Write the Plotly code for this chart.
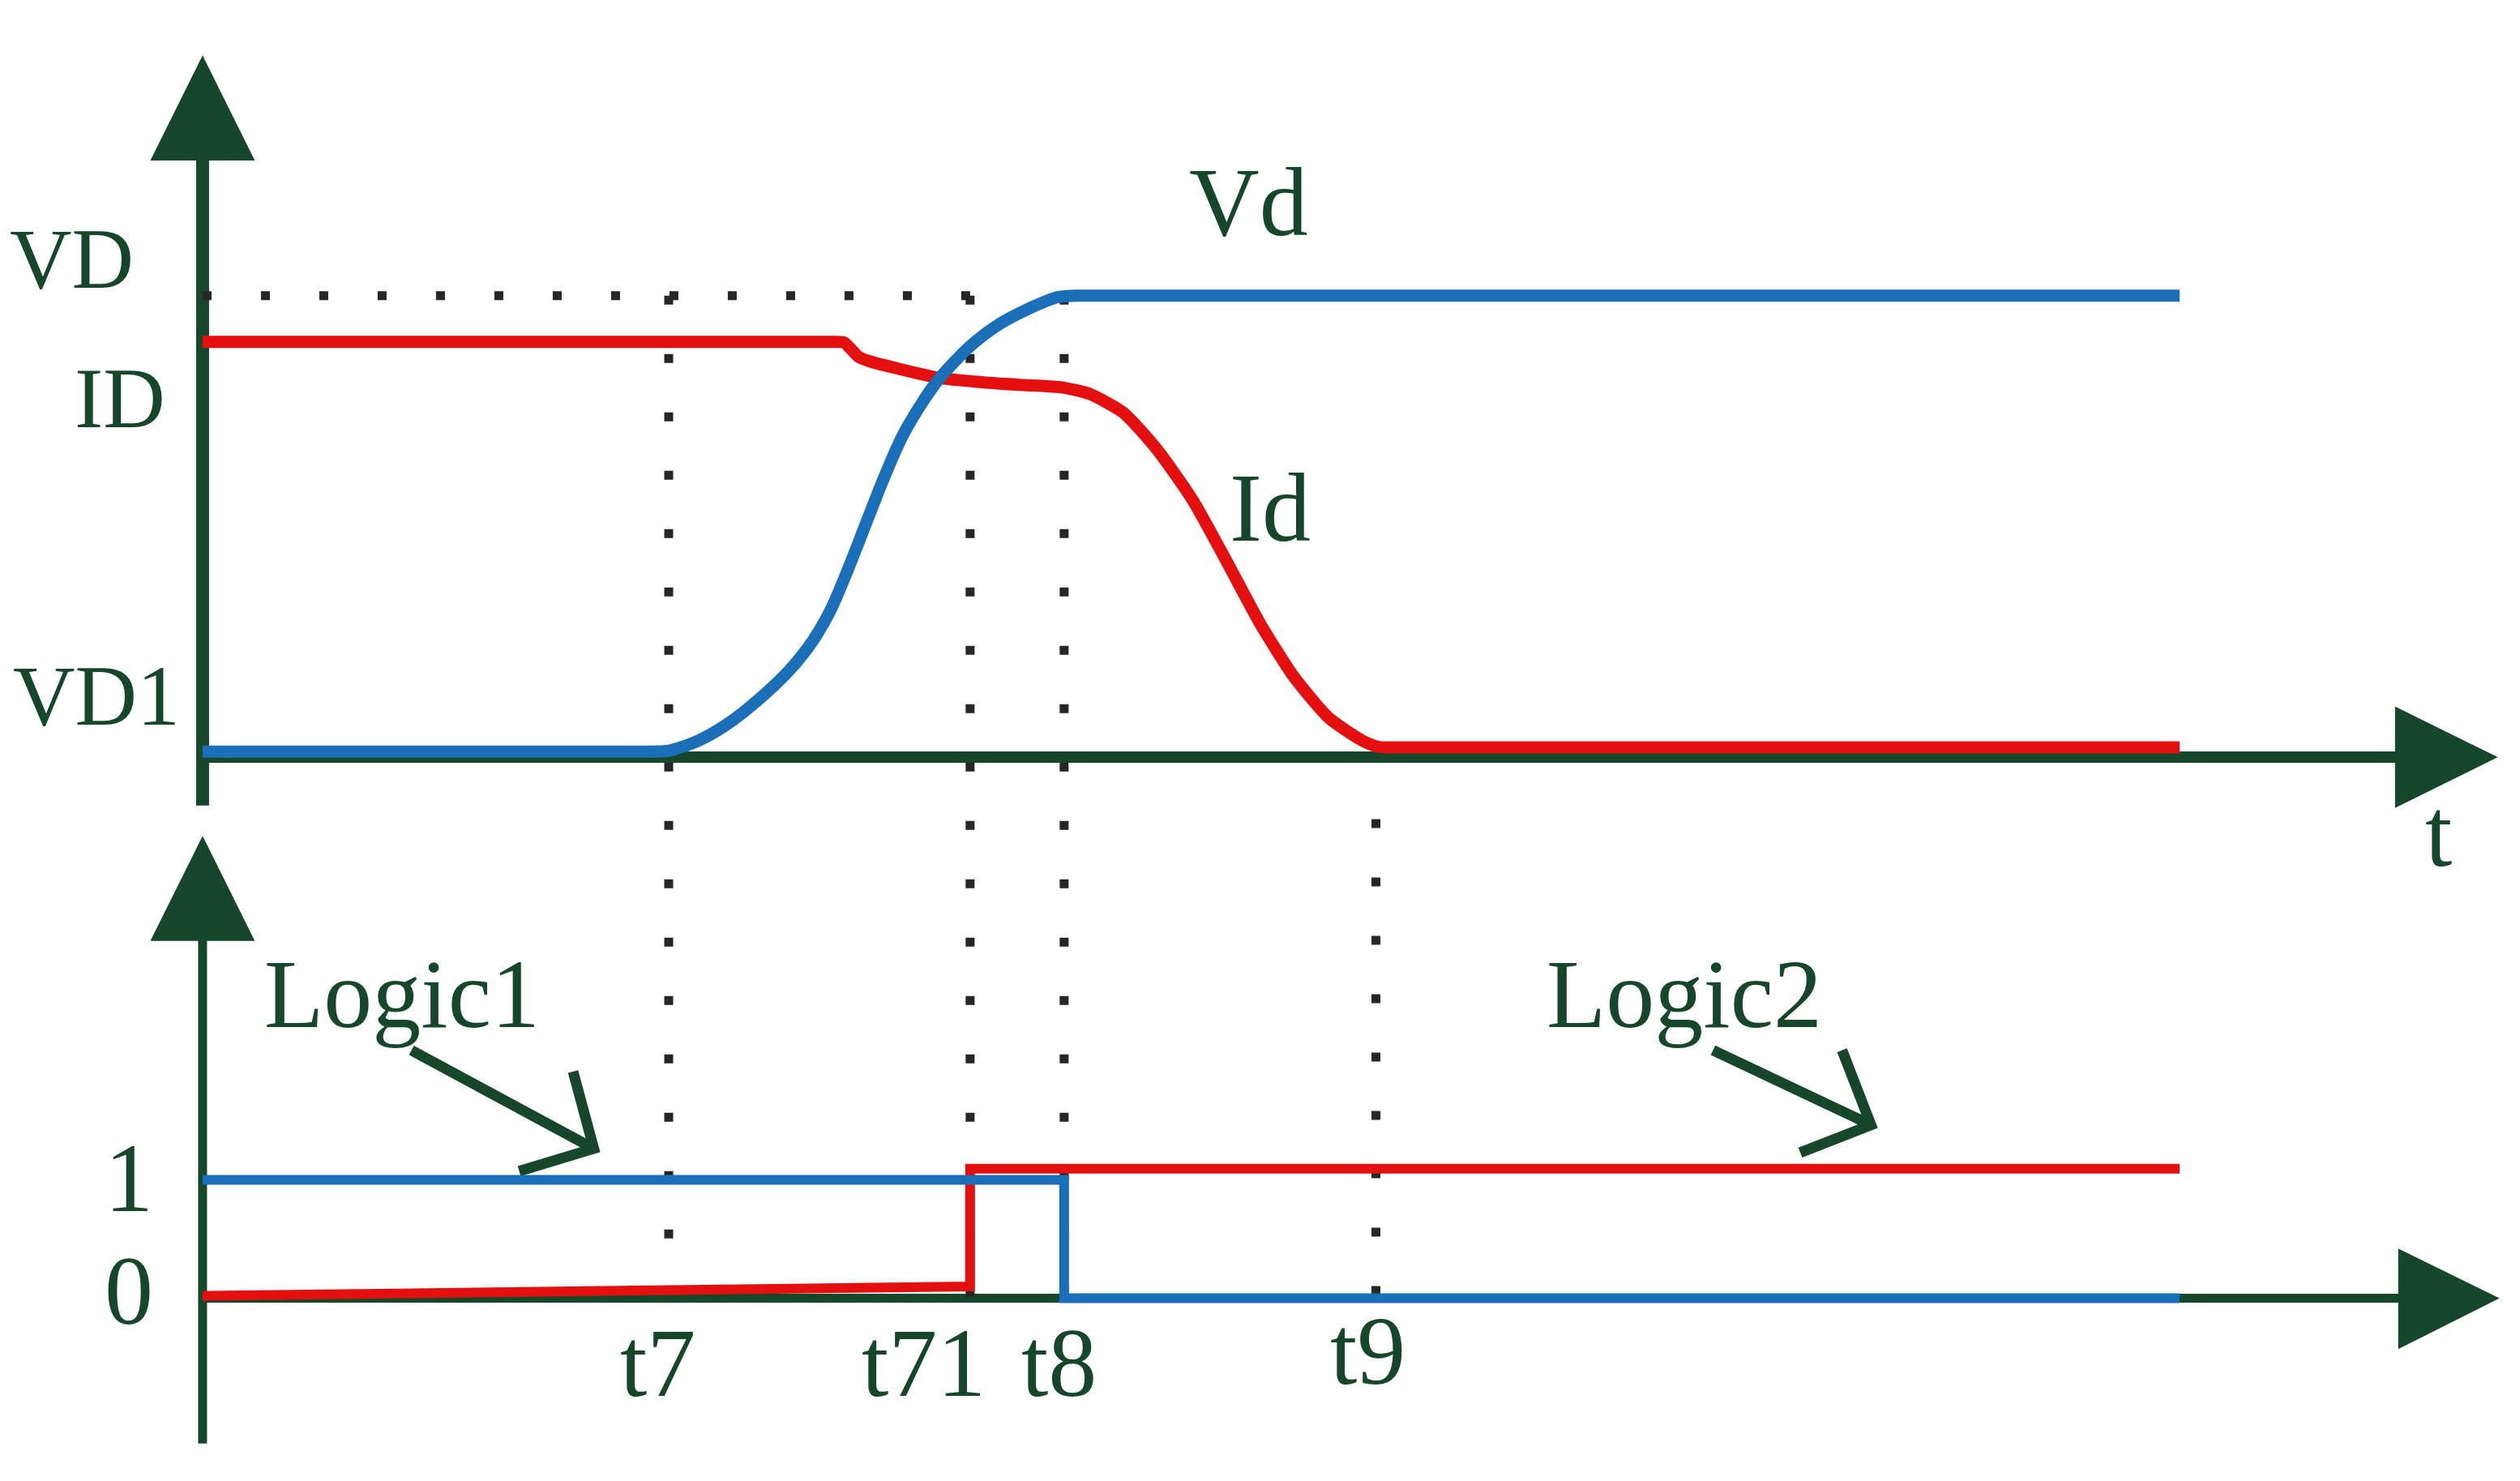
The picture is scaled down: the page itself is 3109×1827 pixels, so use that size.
import plotly.graph_objects as go

# switching instants on the time axis (arbitrary units)
T7, T71, T8, T9 = 29.0, 47.75, 53.6, 73.0
T_END = 123.0

# upper panel: drain voltage Vd rises VD1 -> VD, drain current Id falls ID -> ~0
vd_t = [0, 26.0, 28.0, 29.0, 30.8, 32.7, 34.6, 36.5, 38.0, 39.1, 40.2, 41.3, 42.4, 43.5,
        44.8, 45.8, 47.7, 49.5, 51.4, 53.2, 54.2, 55.5, 57.0, 123.0]
vd_v = [0.012, 0.012, 0.012, 0.014, 0.035, 0.073, 0.125, 0.188, 0.254, 0.321, 0.411, 0.509, 0.606,
        0.693, 0.770, 0.819, 0.889, 0.937, 0.972, 0.997, 1.0, 1.0, 1.0, 1.0]

id_t = [0, 36.0, 39.0, 39.9, 40.3, 40.8, 41.59, 43.27, 45.79, 48.31, 50.8, 53.36, 55.2, 57.3,
        59.4, 61.6, 63.7, 65.8, 67.9, 70.1, 72.2, 73.2, 74.5, 76.0, 123.0]
id_v = [0.900, 0.900, 0.900, 0.899, 0.886, 0.868, 0.857, 0.842, 0.822, 0.813, 0.807, 0.802, 0.787,
        0.746, 0.666, 0.557, 0.425, 0.289, 0.174, 0.084, 0.035, 0.022, 0.021, 0.021, 0.021]

# lower panel: logic signals
logic1_t = [0, T8, T8, T_END]
logic1_v = [1, 1, 0, 0]
logic2_t = [0, T71, T71, T_END]
logic2_v = [0.02, 0.10, 1.095, 1.095]

# level labels on the vertical axes
upper_labels = ["VD", "ID", "VD1"]
upper_label_y = [1.059, 0.756, 0.111]
upper_label_right = [-4.2, -2.2, -1.3]
lower_labels = ["1", "0"]
lower_label_y = [0.93, -0.02]
# time labels under the lower axis
time_labels = ["t7", "t71", "t8", "t9"]
time_label_x = [T7 - 0.7, T71 - 2.9, T8 - 0.3, T9 - 0.5]
time_label_y = [-0.63, -0.63, -0.63, -0.53]

# colours
AXIS = "#17472a"
BLUE = "#1a6fb8"
RED = "#e3100f"
DOT = "#262626"
SERIF = "Liberation Serif, Times New Roman, serif"
FONT = dict(family=SERIF, size=120, color=AXIS)
FONT_LVL = dict(family=SERIF, size=106, color=AXIS)
DOTS = "11px,61px"
dotted = dict(color=DOT, width=11, dash=DOTS)

# the VD level expressed on the lower panel's scale, so the guides keep the same dot phase
VD_IN_LOWER = 8.473

fig = go.Figure()

# dotted guides (upper panel)
fig.add_trace(go.Scatter(x=[0, T71], y=[1.0, 1.0], mode="lines", line=dotted, xaxis="x", yaxis="y"))
for t in (T7, T71, T8):
    fig.add_trace(go.Scatter(x=[t, t], y=[1.0, -0.14], mode="lines", line=dotted, xaxis="x", yaxis="y"))
# dotted guides (lower panel)
for t, bottom in ((T7, 0.45), (T71, -0.2), (T8, -0.2)):
    fig.add_trace(go.Scatter(x=[t, t], y=[VD_IN_LOWER, bottom], mode="lines", line=dotted,
                             xaxis="x2", yaxis="y2"))
fig.add_trace(go.Scatter(x=[T9, T9], y=[4.05, 0.0], mode="lines", line=dotted, xaxis="x2", yaxis="y2"))

# curves
fig.add_trace(go.Scatter(x=id_t, y=id_v, mode="lines", name="Id",
                         line=dict(color=RED, width=15, shape="spline", smoothing=0.6),
                         xaxis="x", yaxis="y"))
fig.add_trace(go.Scatter(x=vd_t, y=vd_v, mode="lines", name="Vd",
                         line=dict(color=BLUE, width=15, shape="spline", smoothing=0.8),
                         xaxis="x", yaxis="y"))
fig.add_trace(go.Scatter(x=logic2_t, y=logic2_v, mode="lines", name="Logic2",
                         line=dict(color=RED, width=12), xaxis="x2", yaxis="y2"))
fig.add_trace(go.Scatter(x=logic1_t, y=logic1_v, mode="lines", name="Logic1",
                         line=dict(color=BLUE, width=12), xaxis="x2", yaxis="y2"))

# axes drawn as arrows
shapes = [
    dict(type="line", xref="x", yref="y", x0=0, y0=-0.105, x1=0, y1=1.30, line=dict(color=AXIS, width=16)),
    dict(type="path", xref="x", yref="y", path="M -3.25,1.293 L 3.25,1.293 L 0,1.521 Z",
         fillcolor=AXIS, line=dict(width=0)),
    dict(type="line", xref="x", yref="y", x0=0, y0=0, x1=136.6, y1=0, line=dict(color=AXIS, width=14)),
    dict(type="path", xref="x", yref="y", path="M 136.4,0.11 L 136.4,-0.11 L 142.8,0 Z",
         fillcolor=AXIS, line=dict(width=0)),
    dict(type="line", xref="x2", yref="y2", x0=0, y0=-1.228, x1=0, y1=3.05, line=dict(color=AXIS, width=11)),
    dict(type="path", xref="x2", yref="y2", path="M -3.25,3.02 L 3.25,3.02 L 0,3.908 Z",
         fillcolor=AXIS, line=dict(width=0)),
    dict(type="line", xref="x2", yref="y2", x0=0, y0=0, x1=136.8, y1=0, line=dict(color=AXIS, width=11)),
    dict(type="path", xref="x2", yref="y2", path="M 136.6,0.42 L 136.6,-0.43 L 142.9,0 Z",
         fillcolor=AXIS, line=dict(width=0)),
    # pointers from the Logic labels
    dict(type="path", xref="x2", yref="y2",
         path="M 13.0,2.096 L 24.34,1.265 M 23.05,1.916 L 24.34,1.265 L 19.7,1.075",
         line=dict(color=AXIS, width=13)),
    dict(type="path", xref="x2", yref="y2",
         path="M 93.97,2.096 L 103.8,1.465 M 102.0,2.096 L 103.8,1.465 L 99.4,1.231",
         line=dict(color=AXIS, width=13)),
]
for s in shapes:
    s["layer"] = "below"

annotations = []
for name, y, xr in zip(upper_labels, upper_label_y, upper_label_right):
    annotations.append(dict(x=xr, y=y, xref="x", yref="y", text=name, xanchor="right", font=FONT_LVL))
for name, y in zip(lower_labels, lower_label_y):
    annotations.append(dict(x=-4.6, y=y, xref="x2", yref="y2", text=name))
annotations.append(dict(x=65.1, y=1.181, xref="x", yref="y", text="Vd"))
annotations.append(dict(x=66.4, y=0.519, xref="x", yref="y", text="Id"))
annotations.append(dict(x=139.1, y=3.85, xref="x2", yref="y2", text="t"))
annotations.append(dict(x=12.4, y=2.49, xref="x2", yref="y2", text="Logic1"))
annotations.append(dict(x=92.2, y=2.49, xref="x2", yref="y2", text="Logic2"))
for name, x, y in zip(time_labels, time_label_x, time_label_y):
    annotations.append(dict(x=x, y=y, xref="x2", yref="y2", text=name))
for a in annotations:
    a.setdefault("font", FONT)
    a.setdefault("xanchor", "center")
    a.update(showarrow=False, yanchor="middle", yshift=12)

hidden = dict(visible=False, showgrid=False, zeroline=False)
fig.update_layout(
    width=3109, height=1827,
    margin=dict(l=0, r=0, t=0, b=0),
    paper_bgcolor="white", plot_bgcolor="white",
    showlegend=False,
    xaxis=dict(range=[-12.2, 144.58], domain=[0, 1], anchor="y", **hidden),
    yaxis=dict(range=[-0.1324, 1.627], domain=[0.4519, 1], anchor="x", **hidden),
    xaxis2=dict(range=[-12.2, 144.58], domain=[0, 1], anchor="y2", matches="x", **hidden),
    yaxis2=dict(range=[-1.599, 4.057], domain=[0, 0.4519], anchor="x2", **hidden),
    shapes=shapes,
    annotations=annotations,
)

fig.write_html("out.html")
